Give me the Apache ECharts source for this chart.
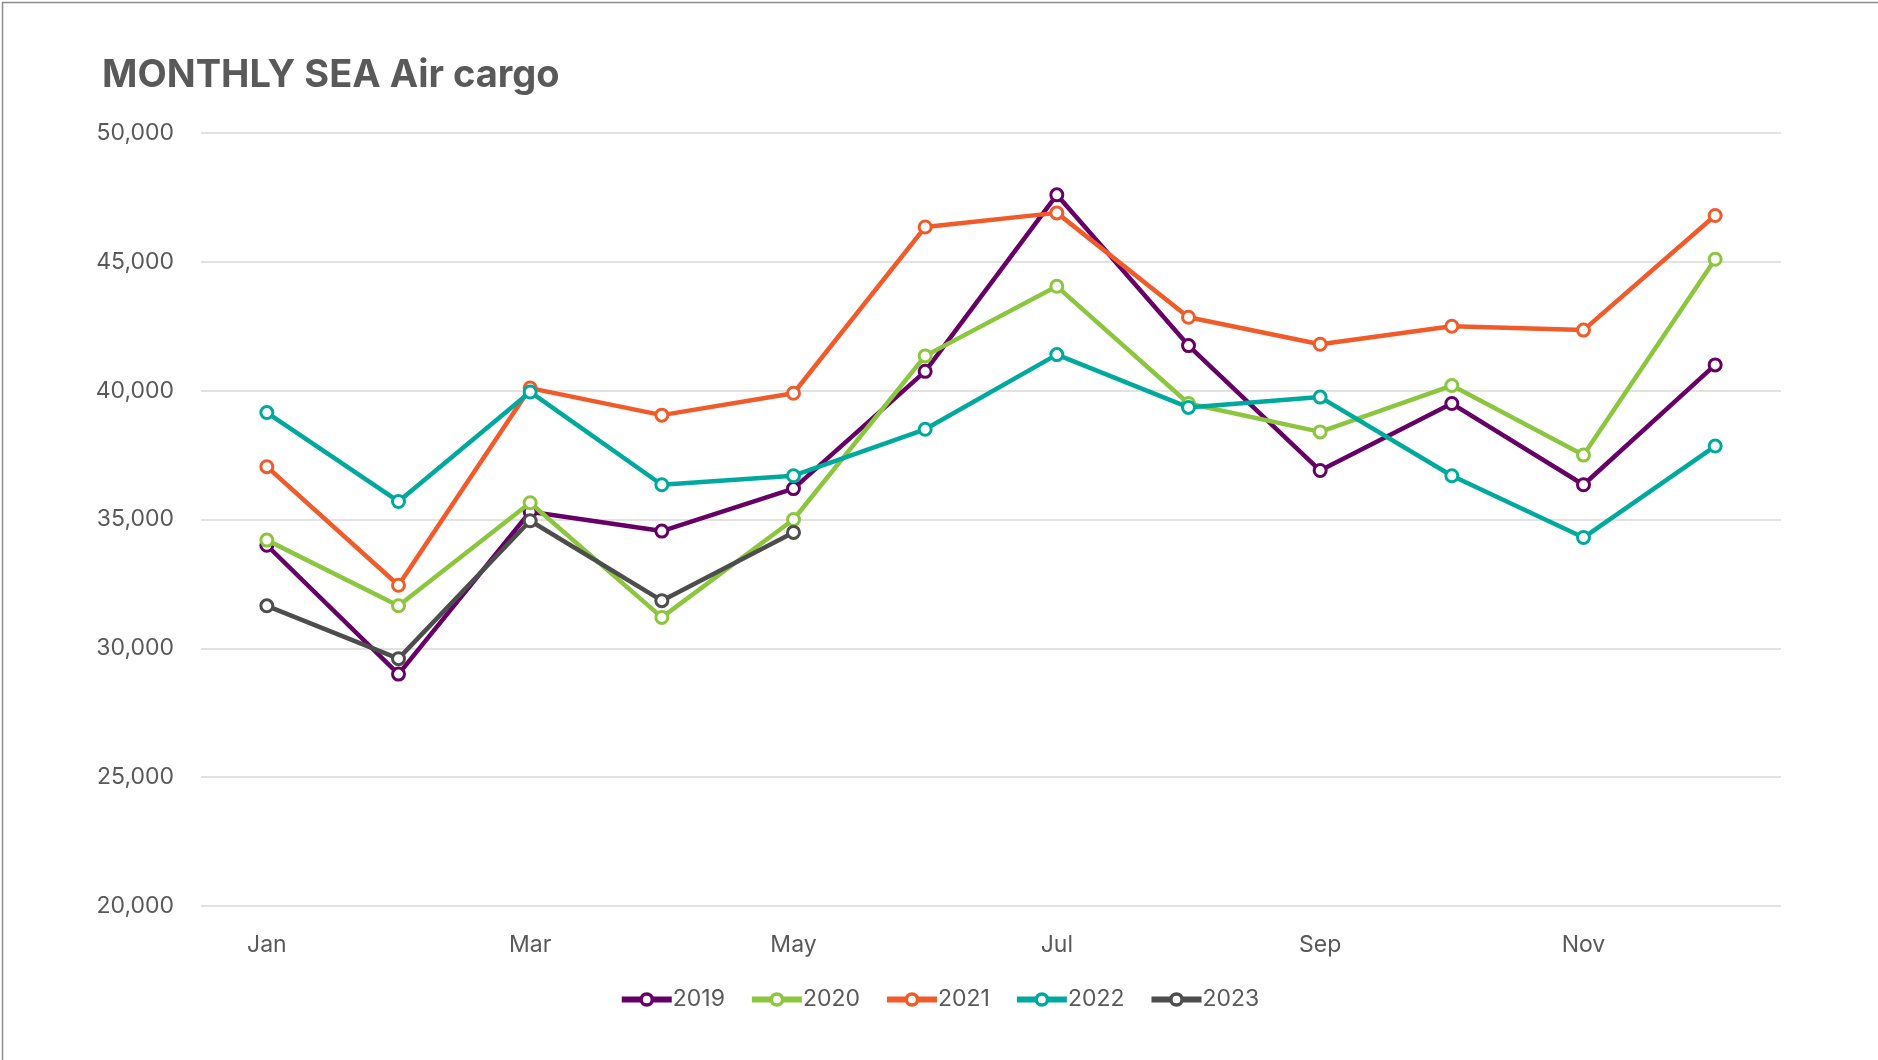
<!DOCTYPE html>
<html>
<head>
<meta charset="utf-8">
<title>MONTHLY SEA Air cargo</title>
<script src="https://cdn.jsdelivr.net/npm/echarts@6/dist/echarts.min.js"></script>
<style>
  html, body { margin: 0; padding: 0; background: #fff; }
  #main { width: 1878px; height: 1060px; }
</style>
</head>
<body>
<div id="main"></div>
<script>
// 月份
const months = ['Jan', 'Feb', 'Mar', 'Apr', 'May', 'Jun', 'Jul', 'Aug', 'Sep', 'Oct', 'Nov', 'Dec']

// 每年数据
const y2019 = [34000, 29000, 35300, 34550, 36200, 40750, 47600, 41750, 36900, 39500, 36350, 41000]
const y2020 = [34200, 31650, 35650, 31200, 35000, 41350, 44050, 39500, 38400, 40200, 37500, 45100]
const y2021 = [37050, 32450, 40100, 39050, 39900, 46350, 46900, 42850, 41800, 42500, 42350, 46800]
const y2022 = [39150, 35700, 39950, 36350, 36700, 38500, 41400, 39350, 39750, 36700, 34300, 37850]
const y2023 = [31650, 29600, 34950, 31850, 34500]

const yearNames = ['2019', '2020', '2021', '2022', '2023']
const yearColors = ['#660066', '#8cc63f', '#f15a29', '#00a99d', '#4d4d4d']

const fontFamily = 'Inter, "Open Sans", sans-serif'

;(function(){
  const dom = document.getElementById('main')
  const chart = echarts.init(dom)

  const seriesData = [y2019, y2020, y2021, y2022, y2023]
  const series = seriesData.map((d, i) => ({
    name: yearNames[i],
    type: 'line',
    data: d,
    symbol: 'circle',
    symbolSize: 12,
    showAllSymbol: true,
    z: 2 + i,
    lineStyle: { width: 4.5, color: yearColors[i] },
    itemStyle: { color: '#fff', borderColor: yearColors[i], borderWidth: 3 }
  }))

  const option = {
    animation: false,
    color: yearColors,
    title: {
      text: 'MONTHLY SEA Air cargo',
      left: 97,
      top: 52,
      textStyle: { fontFamily: fontFamily, fontSize: 38, fontWeight: 'bold', color: '#595959' }
    },
    legend: {
      bottom: 44,
      left: 'center',
      itemWidth: 50,
      itemHeight: 14,
      itemGap: 24,
      data: yearNames,
      lineStyle: { width: 6 },
      itemStyle: { borderWidth: 3.5 },
      textStyle: { fontFamily: fontFamily, fontSize: 23, color: '#595959', padding: [0, 0, 0, -4] }
    },
    grid: { left: 201, right: 97, top: 133, bottom: 154 },
    xAxis: {
      type: 'category',
      data: months,
      boundaryGap: true,
      axisLine: { show: false },
      axisTick: { show: false },
      axisLabel: { interval: 1, margin: 28, fontFamily: fontFamily, fontSize: 23, color: '#595959' }
    },
    yAxis: {
      type: 'value',
      min: 20000,
      max: 50000,
      interval: 5000,
      axisLine: { show: false },
      axisTick: { show: false },
      axisLabel: {
        margin: 27,
        fontFamily: fontFamily,
        fontSize: 23,
        color: '#595959',
        formatter: v => v.toLocaleString('en-US')
      },
      splitLine: { lineStyle: { color: '#d9d9d9', width: 1.5 } }
    },
    graphic: [{
      type: 'rect',
      left: 0, top: 0,
      shape: { x: 0.5, y: 0.5, width: 1877, height: 1059 },
      style: { fill: 'none', stroke: '#8c8c8c', lineWidth: 1.5 },
      silent: true
    }],
    series: series
  }

  chart.setOption(option)
  window.addEventListener('resize', () => { chart.resize() })
})()
</script>
</body>
</html>
